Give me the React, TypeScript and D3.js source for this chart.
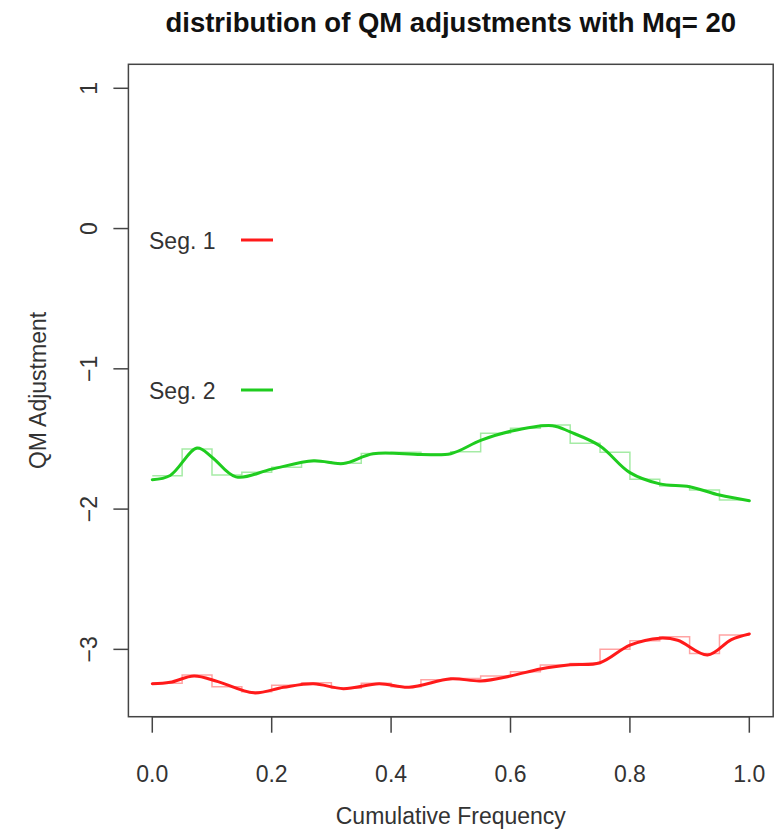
import React, { useEffect, useRef } from "react";
import * as d3 from "d3";

// 20 quantile bins (Mq = 20)
const binEdges = d3.range(0, 21).map((i) => i / 20);

const seg1Steps = [
  -3.242, -3.183, -3.267, -3.302, -3.255, -3.238, -3.278, -3.242, -3.267, -3.216,
  -3.207, -3.19, -3.16, -3.112, -3.1, -3.0, -2.939, -2.91, -3.029, -2.898,
];
const seg2Steps = [
  -1.762, -1.572, -1.757, -1.738, -1.702, -1.662, -1.674, -1.603, -1.595, -1.608,
  -1.591, -1.46, -1.424, -1.4, -1.531, -1.595, -1.788, -1.836, -1.864, -1.935,
];

const seg1SmoothX = [0, 0.03, 0.07, 0.11, 0.17, 0.22, 0.27, 0.32, 0.38, 0.43, 0.5, 0.55, 0.6, 0.65, 0.7, 0.75, 0.8, 0.85, 0.88, 0.93, 0.97, 1.0];
const seg1Smooth = [-3.245, -3.235, -3.19, -3.23, -3.31, -3.27, -3.245, -3.28, -3.245, -3.27, -3.21, -3.225, -3.19, -3.14, -3.11, -3.095, -2.97, -2.92, -2.935, -3.04, -2.93, -2.89];

const seg2SmoothX = [0, 0.03, 0.075, 0.1, 0.14, 0.2, 0.27, 0.32, 0.37, 0.45, 0.5, 0.55, 0.6, 0.67, 0.7, 0.75, 0.8, 0.85, 0.9, 0.95, 1.0];
const seg2Smooth = [-1.79, -1.76, -1.565, -1.63, -1.77, -1.715, -1.655, -1.675, -1.605, -1.61, -1.605, -1.51, -1.445, -1.405, -1.45, -1.55, -1.74, -1.82, -1.84, -1.9, -1.94];

const xTicks = [0, 0.2, 0.4, 0.6, 0.8, 1.0];
const yTicks = [1, 0, -1, -2, -3];
const legendLabels = ["Seg. 1", "Seg. 2"];
const colors = ["#ff1a1a", "#1fcc1f"];

const App = () => {
  const svgRef = useRef<SVGSVGElement>(null);

  useEffect(() => {
    const width = 780, height = 831;
    const left = 128.4, right = 773.2, top = 64.3, bottom = 716.7;
    const axisColor = "#444";
    const textColor = "#333";
    const font = "'Liberation Sans', Arial, sans-serif";
    const fs = 23;

    const svg = d3.select(svgRef.current).attr("width", width).attr("height", height).html("");

    svg.append("rect").attr("width", width).attr("height", height).attr("fill", "#fff");

    const x = d3.scaleLinear().domain([-0.04, 1.04]).range([left, right]);
    const y = d3.scaleLinear().domain([-3.48, 1.171]).range([bottom, top]);

    // step functions (light)
    const stepLine = d3
      .line<number>()
      .x((_, i) => x(binEdges[i]))
      .y((d) => y(d))
      .curve(d3.curveStepAfter);

    [seg1Steps, seg2Steps].forEach((steps, k) => {
      const vals = [...steps, steps[steps.length - 1]];
      svg
        .append("path")
        .attr("d", stepLine(vals))
        .attr("fill", "none")
        .attr("stroke", colors[k])
        .attr("stroke-opacity", 0.4)
        .attr("stroke-width", 1.5);
    });

    // smooth lines
    const smoothLine = d3
      .line<[number, number]>()
      .x((d) => x(d[0]))
      .y((d) => y(d[1]))
      .curve(d3.curveCatmullRom.alpha(0.5));

    const smooths: [number, number][][] = [
      seg1SmoothX.map((v, i) => [v, seg1Smooth[i]]),
      seg2SmoothX.map((v, i) => [v, seg2Smooth[i]]),
    ];
    smooths.forEach((pts, k) => {
      svg
        .append("path")
        .attr("d", smoothLine(pts))
        .attr("fill", "none")
        .attr("stroke", colors[k])
        .attr("stroke-width", 3)
        .attr("stroke-linecap", "round");
    });

    // box
    svg
      .append("rect")
      .attr("x", left)
      .attr("y", top)
      .attr("width", right - left)
      .attr("height", bottom - top)
      .attr("fill", "none")
      .attr("stroke", axisColor)
      .attr("stroke-width", 1.5);

    // x axis
    const gx = svg.append("g");
    gx.append("line")
      .attr("x1", x(0)).attr("x2", x(1))
      .attr("y1", bottom).attr("y2", bottom)
      .attr("stroke", axisColor).attr("stroke-width", 1.5);
    xTicks.forEach((t) => {
      gx.append("line")
        .attr("x1", x(t)).attr("x2", x(t))
        .attr("y1", bottom).attr("y2", bottom + 16)
        .attr("stroke", axisColor).attr("stroke-width", 1.5);
      gx.append("text")
        .attr("x", x(t))
        .attr("y", 782)
        .attr("text-anchor", "middle")
        .attr("font-family", font)
        .attr("font-size", fs)
        .attr("fill", textColor)
        .text(d3.format(".1f")(t));
    });

    // y axis
    const gy = svg.append("g");
    yTicks.forEach((t) => {
      gy.append("line")
        .attr("x1", left - 15).attr("x2", left)
        .attr("y1", y(t)).attr("y2", y(t))
        .attr("stroke", axisColor).attr("stroke-width", 1.5);
      gy.append("text")
        .attr("transform", `translate(97,${y(t)}) rotate(-90)`)
        .attr("text-anchor", "middle")
        .attr("font-family", font)
        .attr("font-size", fs)
        .attr("fill", textColor)
        .text(t < 0 ? `\u2212${Math.abs(t)}` : `${t}`);
    });

    // titles
    svg.append("text")
      .attr("x", (left + right) / 2)
      .attr("y", 32)
      .attr("text-anchor", "middle")
      .attr("font-family", font)
      .attr("font-weight", "bold")
      .attr("font-size", 27.5)
      .attr("fill", "#111")
      .text("distribution of QM adjustments with Mq= 20");

    svg.append("text")
      .attr("x", (left + right) / 2)
      .attr("y", 824)
      .attr("text-anchor", "middle")
      .attr("font-family", font)
      .attr("font-size", fs)
      .attr("fill", textColor)
      .text("Cumulative Frequency");

    svg.append("text")
      .attr("transform", `translate(46,${(top + bottom) / 2}) rotate(-90)`)
      .attr("text-anchor", "middle")
      .attr("font-family", font)
      .attr("font-size", fs)
      .attr("fill", textColor)
      .text("QM Adjustment");

    // legend
    const legendY = [240, 390];
    legendLabels.forEach((lab, k) => {
      svg.append("text")
        .attr("x", 149)
        .attr("y", legendY[k] + 8.5)
        .attr("font-family", font)
        .attr("font-size", fs)
        .attr("fill", textColor)
        .text(lab);
      svg.append("line")
        .attr("x1", 241).attr("x2", 273)
        .attr("y1", legendY[k]).attr("y2", legendY[k])
        .attr("stroke", colors[k])
        .attr("stroke-width", 3);
    });
  }, []);

  return <svg ref={svgRef} style={{ position: "absolute", left: 0, top: 0 }}></svg>;
};

export default App;
